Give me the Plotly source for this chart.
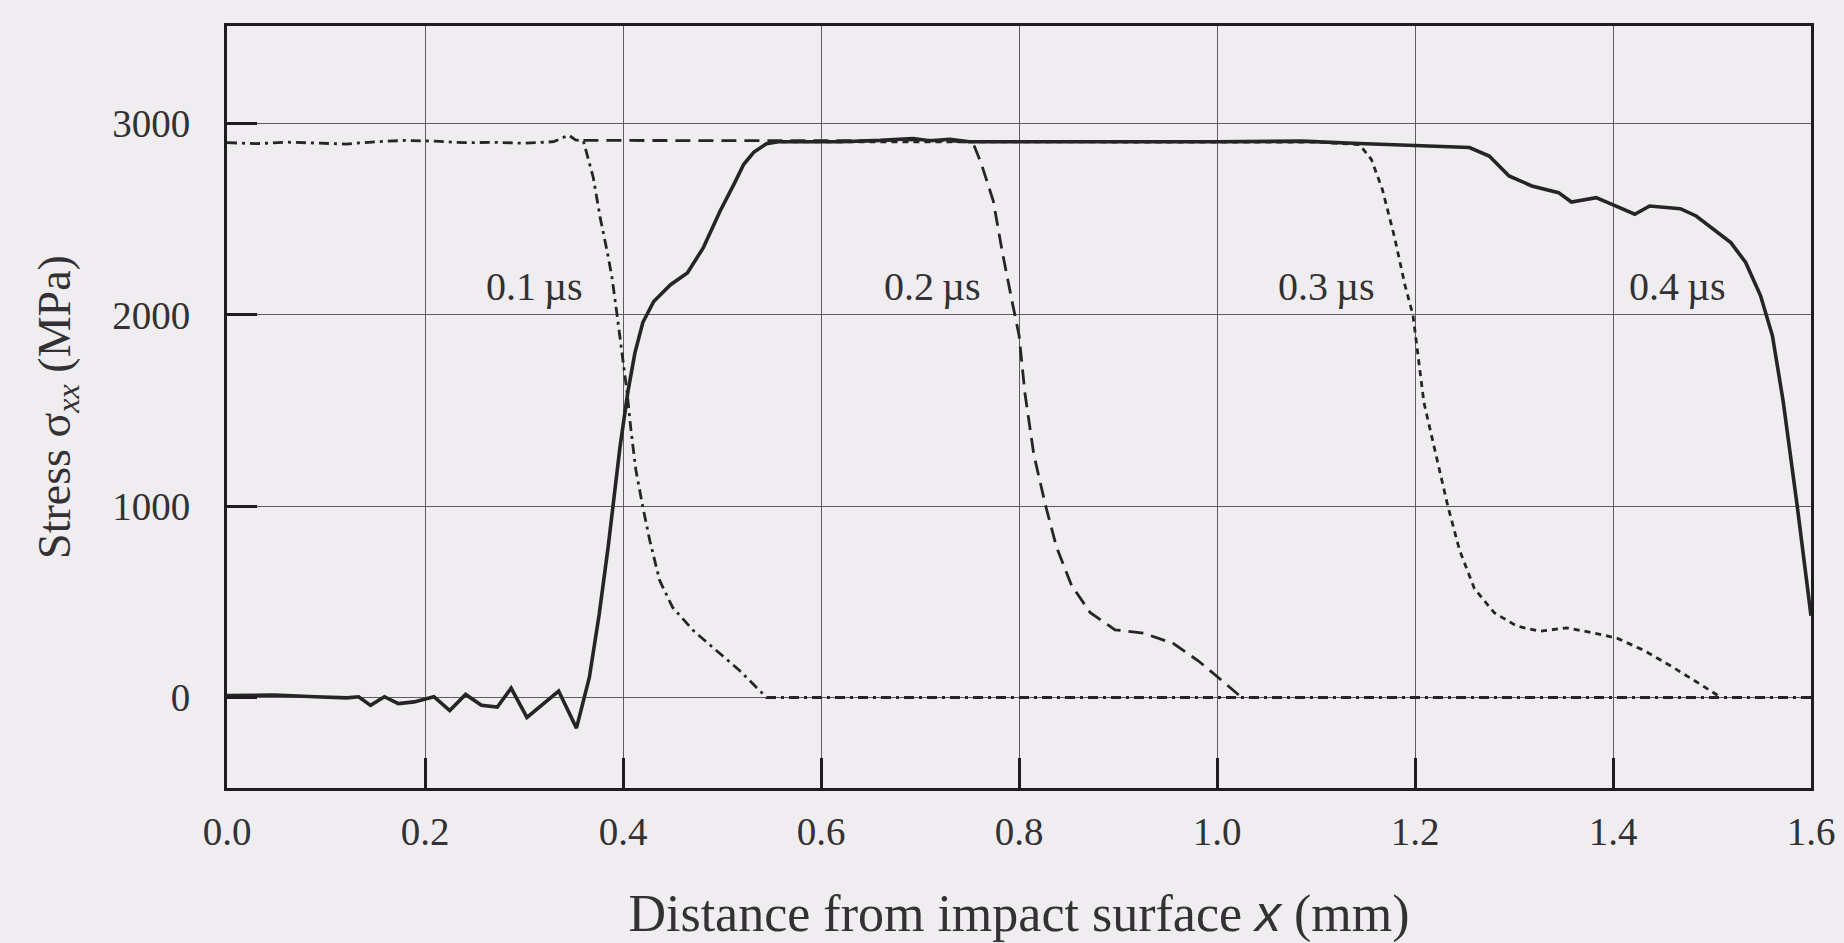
import plotly.graph_objects as go

# Stress profiles sigma_xx along the specimen at successive times after impact
x_01 = [0.000, 0.030, 0.060, 0.090, 0.120, 0.150, 0.180, 0.210, 0.240, 0.270, 0.300, 0.330,
        0.345, 0.352, 0.360, 0.370, 0.377, 0.384, 0.389, 0.394, 0.400, 0.404, 0.408, 0.413,
        0.420, 0.427, 0.437, 0.450, 0.471, 0.494, 0.518, 0.545, 1.600]
y_01 = [2900, 2895, 2903, 2898, 2893, 2905, 2912, 2908, 2900, 2902, 2897, 2905,
        2940, 2915, 2909, 2717, 2507, 2332, 2192, 2000, 1760, 1600, 1400, 1189,
        997, 822, 612, 472, 350, 245, 140, 0, 0]

x_02 = [0.360, 0.450, 0.550, 0.650, 0.700, 0.745, 0.755,
        0.762, 0.774, 0.783, 0.793, 0.800, 0.806, 0.815, 0.827, 0.838, 0.853, 0.872,
        0.897, 0.926, 0.956, 0.981, 1.006, 1.025]
y_02 = [2912, 2912, 2910, 2910, 2915, 2905, 2880,
        2789, 2596, 2333, 2070, 1895, 1590, 1269, 1000, 785, 587, 443,
        354, 336, 282, 192, 84, 0]

x_03 = [0.560, 0.800, 1.000, 1.100, 1.144, 1.156, 1.167, 1.179,
        1.190, 1.198, 1.209, 1.221, 1.233, 1.245, 1.260, 1.280, 1.303, 1.326, 1.353,
        1.381, 1.404, 1.431, 1.458, 1.489, 1.509]
y_03 = [2905, 2905, 2905, 2903, 2890, 2812, 2656, 2413,
        2153, 1997, 1542, 1269, 1004, 770, 569, 443, 373, 346, 364,
        337, 310, 247, 166, 67, 0]

x_04 = [0.000, 0.048, 0.089, 0.121, 0.133, 0.145, 0.159, 0.173, 0.189, 0.209, 0.225,
        0.241, 0.257, 0.273, 0.287, 0.303, 0.335, 0.353, 0.366, 0.376, 0.385, 0.390,
        0.397, 0.405, 0.412, 0.420, 0.431, 0.448, 0.465, 0.481, 0.498, 0.512, 0.522,
        0.532, 0.545, 0.557, 0.620, 0.660, 0.693, 0.710, 0.730, 0.750, 0.800, 0.900,
        1.000, 1.086, 1.144, 1.200, 1.255, 1.275, 1.295, 1.318, 1.345, 1.358, 1.383,
        1.399, 1.422, 1.437, 1.468, 1.484, 1.519, 1.534, 1.549, 1.561, 1.572, 1.586,
        1.600]
y_04 = [10, 13, 4, -2, 4, -41, 4, -32, -23, 4, -68,
        16, -41, -50, 49, -104, 34, -160, 105, 437, 787, 997,
        1311, 1600, 1800, 1960, 2070, 2158, 2219, 2350, 2542, 2682, 2787,
        2850, 2895, 2905, 2905, 2912, 2922, 2910, 2918, 2905, 2904, 2905,
        2905, 2908, 2896, 2885, 2875, 2830, 2726, 2674, 2639, 2590, 2613,
        2578, 2526, 2569, 2555, 2517, 2378, 2274, 2101, 1892, 1545, 1004,
        427]

label_text = ["0.1\u2009\u00b5s", "0.2\u2009\u00b5s", "0.3\u2009\u00b5s", "0.4\u2009\u00b5s"]
label_x = [0.311, 0.713, 1.111, 1.465]
label_y = [2150, 2150, 2150, 2150]

x_ticks = [0.0, 0.2, 0.4, 0.6, 0.8, 1.0, 1.2, 1.4, 1.6]
x_ticktext = ["0.0", "0.2", "0.4", "0.6", "0.8", "1.0", "1.2", "1.4", "1.6"]
y_ticks = [0, 1000, 2000, 3000]
y_ticktext = ["0", "1000", "2000", "3000"]

INK = "#262426"
BG = "#efedef"
SERIF = "Liberation Serif, Times New Roman, serif"

fig = go.Figure()
fig.add_trace(go.Scatter(x=x_01, y=y_01, mode="lines", name="0.1 µs",
                         line=dict(color=INK, width=2.8, dash="10px,5px,3px,5px")))
fig.add_trace(go.Scatter(x=x_02, y=y_02, mode="lines", name="0.2 µs",
                         line=dict(color=INK, width=2.8, dash="15px,8px")))
fig.add_trace(go.Scatter(x=x_03, y=y_03, mode="lines", name="0.3 µs",
                         line=dict(color=INK, width=2.8, dash="6px,5px")))
fig.add_trace(go.Scatter(x=x_04, y=y_04, mode="lines", name="0.4 µs",
                         line=dict(color=INK, width=3.6)))

for t, xa, ya in zip(label_text, label_x, label_y):
    fig.add_annotation(x=xa, y=ya, text=t, showarrow=False,
                       font=dict(family=SERIF, size=40, color="#333133"))

axis_common = dict(
    showline=True, linecolor="#1e1c1e", linewidth=3, mirror=True,
    showgrid=True, gridcolor="#5e5c5e", gridwidth=1,
    ticks="inside", ticklen=30, tickwidth=3, tickcolor="#1e1c1e",
    zeroline=False,
    tickfont=dict(family=SERIF, size=39, color="#333133"),
)

fig.update_xaxes(
    range=[0, 1.6], tickvals=x_ticks, ticktext=x_ticktext,
    ticklabelstandoff=7,
    title=dict(
        text="Distance from impact surface "
             "<span style='font-family:Liberation Sans'><i>x</i></span> (mm)",
        font=dict(family=SERIF, size=52, color="#333133"), standoff=44),
    **axis_common,
)
fig.update_yaxes(
    range=[-473, 3510], tickvals=y_ticks, ticktext=y_ticktext,
    ticklabelstandoff=26,
    title=dict(text="Stress \u03c3<sub><i>xx</i></sub> (MPa)",
               font=dict(family=SERIF, size=46, color="#333133"), standoff=28),
    **axis_common,
)

fig.update_layout(
    width=1844, height=943,
    margin=dict(l=227, r=33, t=26, b=155, autoexpand=False),
    paper_bgcolor=BG, plot_bgcolor=BG,
    showlegend=False,
)

fig.write_html("out.html")
